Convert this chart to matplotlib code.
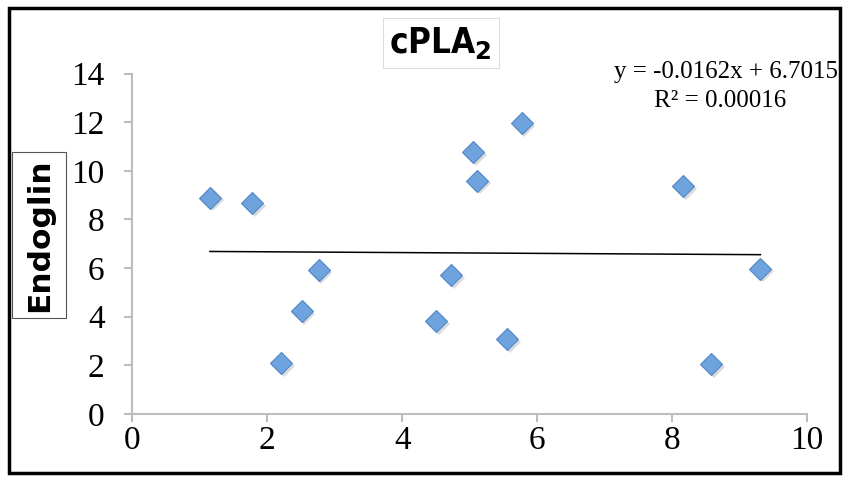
import numpy as np
import matplotlib
matplotlib.use("Agg")
import matplotlib.pyplot as plt
from matplotlib.patches import Rectangle

# cPLA2 (x) vs Endoglin (y)
cpla2 = [1.15, 1.78, 2.21, 2.51, 2.76, 4.50, 4.73, 5.05, 5.11, 5.56, 5.77, 8.16, 8.58, 9.31]
endoglin = [8.90, 8.68, 2.10, 4.22, 5.92, 3.82, 5.70, 10.78, 9.60, 3.10, 11.95, 9.38, 2.06, 5.98]

slope = -0.0162
intercept = 6.7015
r2 = 0.00016

xticks = [0, 2, 4, 6, 8, 10]
yticks = [0, 2, 4, 6, 8, 10, 12, 14]

fig = plt.figure(figsize=(8.51, 4.82), dpi=100)
ax = fig.add_axes([0.1555, 0.1411, 0.7928, 0.7064])

# outer frame
fig.patches.append(Rectangle((0.011, 0.018), 0.976, 0.965, transform=fig.transFigure,
                             fill=False, edgecolor='black', linewidth=2.5))

# shadow then markers
ax.plot(np.array(cpla2) + 0.04, np.array(endoglin) - 0.12, 'D', markersize=11.5,
        color='#9a9a9a', alpha=0.35, markeredgewidth=0, clip_on=False)
ax.plot(cpla2, endoglin, 'D', markersize=11.5, markerfacecolor='#6fa3de',
        markeredgecolor='#4f86c6', markeredgewidth=0.8, clip_on=False)

# trend line over data range
xs = np.array([min(cpla2), max(cpla2)])
ax.plot(xs, slope * xs + intercept, color='black', linewidth=1.1)

ax.set_xlim(0, 10)
ax.set_ylim(0, 14)
ax.set_xticks(xticks)
ax.set_yticks(yticks)
for s in ['top', 'right']:
    ax.spines[s].set_visible(False)
for s in ['left', 'bottom']:
    ax.spines[s].set_color('#bdbdbd')
    ax.spines[s].set_linewidth(1.5)
ax.tick_params(axis='both', colors='#bdbdbd', width=1.5, length=6, direction='out')
for lab in ax.get_xticklabels() + ax.get_yticklabels():
    lab.set_color('black')
    lab.set_fontfamily('Liberation Serif')
    lab.set_fontsize(24)
ax.tick_params(axis='y', pad=14)
ax.tick_params(axis='x', pad=2)

fig.text(0.518, 0.91, r'cPLA$_\mathbf{2}$', ha='center', va='center', fontsize=25,
         fontweight='bold', fontstretch='condensed',
         family=['DejaVu Sans Condensed', 'Liberation Sans Narrow', 'DejaVu Sans'],
         bbox=dict(boxstyle='square,pad=0.2', facecolor='white', edgecolor='#dddddd', linewidth=0.8))

# y label with its own box
fig.patches.append(Rectangle((0.0141, 0.340), 0.0635, 0.345, transform=fig.transFigure,
                             facecolor='white', edgecolor='#555555', linewidth=0.8))
fig.text(0.046, 0.512, 'Endoglin', rotation=90, ha='center', va='center', fontsize=22.5,
         fontweight='bold', family=['DejaVu Sans'])

fig.text(0.985, 0.851, f'y = {slope}x + {intercept}', ha='right', va='center',
         fontsize=18, family='Liberation Serif')
fig.text(0.846, 0.79, f'R² = {r2:.5f}', ha='center', va='center',
         fontsize=18, family='Liberation Serif')

fig.savefig('out.png', dpi=100)
